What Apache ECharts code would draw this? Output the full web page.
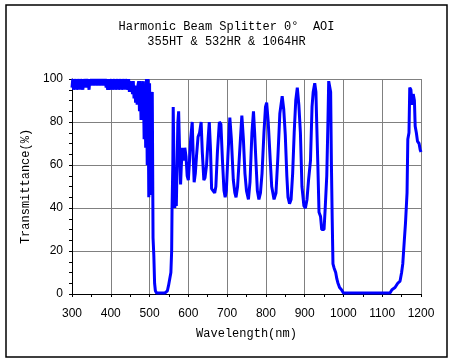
<!DOCTYPE html>
<html>
<head>
<meta charset="utf-8">
<script src="https://cdn.jsdelivr.net/npm/echarts@6/dist/echarts.min.js"></script>
<style>
html,body{margin:0;padding:0;background:#fff;}
#chart{width:453px;height:362px;}
</style>
</head>
<body>
<div id="chart"></div>
<script>
var titleLines = ['Harmonic Beam Splitter 0°  AOI', '355HT & 532HR & 1064HR'];
var xAxisName = 'Wavelength(nm)';
var yAxisName = 'Transmittance(%)';
var xTicks = [300, 400, 500, 600, 700, 800, 900, 1000, 1100, 1200];
var yTicks = [0, 20, 40, 60, 80, 100];

var wavelength = [
300,302,304,306,308,310,312,314,316,318,320,322,324,326,328,330,332,334,336,338,
340,342,344,346,348,350,352,354,356,358,360,362,364,366,368,370,372,374,376,378,
380,382,384,386,388,390,392,394,396,398,400,402,404,406,408,410,412,414,416,418,
420,422,424,426,428,430,432,434,436,438,440,442,444,446,448,450,452,454,456,458,
460,462,464,466,468,470,472,474,476,
478,480,482,484,486,488,490,492,494,496,498,500,502,504,506,507,509,511,513,515,
518,540,546,549,552,555,557,558,560,561,563,565,567,569,571,573,575,577,580,582,
585,588,591,594,597,600,603,606,610,613,615,618,621,625,629,633,636,640,643,647,
651,654,657,660,664,668,671,675,680,684,688,692,695,698,702,707,711,716,720,723,
727,731,738,742,746,750,755,759,764,768,771,774,778,782,786,790,795,799,802,806,
811,815,821,826,831,836,842,846,850,854,857,861,865,869,873,877,881,885,889,893,
898,902,906,910,915,919,922,926,929,931,934,937,941,944,950,953,957,960,962,965,
967,969,971,973,976,980,983,986,990,995,1000,1120,1125,1133,1140,1146,1150,1153,1157,1160,
1162,1164,1166,1169,1171,1174,1177,1180,1183,1185,1188,1191,1195,1198,1200
];
var transmittance = [
96,100,95,99,96,100,95,99,97,100,95,100,96,99,95,100,96,99,97,100,
96,99,95,100,97,100,98,100,97,100,98,100,97,100,98,100,97,100,98,100,
97,100,98,100,96,99,95,100,95,99,96,100,95,99,96,100,95,99,96,100,
95,99,96,100,95,99,96,100,95,100,96,99,95,100,94,99,94,98,93,99,
91,97,89,96,88,97,99,85,99,
81,98,86,99,72,95,68,100,60,100,45,98,46,94,80,94,26,18,5,1.5,
0.5,0.5,1.5,4,7,10,20,40,60,87,60,40,45,41,60,80,85,70,51,60,
68,62,68,64,55,53,62,72,80,62,52,56,64,73,75,80,66,53,54,60,
72,80,68,49,48,47,50,66,80,79,62,48,45,48,64,82,72,53,47,45,
50,62,83,72,56,48,44,52,75,85,75,63,48,44,47,56,75,87,89,80,
63,50,44,47,64,84,92,86,74,55,45,42,44,56,75,90,96,88,75,50,
41,40,44,53,62,87,94,98,94,80,60,38,36,30,30,40,55,80,99,99,
94,60,35,14,12,10,7,5,3,2,0.5,0.5,2,3,5,6,10,14,25,33,
40,47,72,75,96,95,88,93,90,78,75,71,70,67,66
];

var seriesData = wavelength.map(function (w, i) { return [w, transmittance[i]]; });
var monoFont = '"Liberation Mono", "DejaVu Sans Mono", monospace';
var numFont = '"Liberation Sans", Arial, sans-serif';

var chart = echarts.init(document.getElementById('chart'), null, {renderer: 'canvas'});
chart.setOption({
  animation: false,
  backgroundColor: '#ffffff',
  title: {
    text: titleLines.join('\n'),
    left: 'center',
    top: 14,
    textStyle: {fontFamily: monoFont, fontSize: 12, fontWeight: 'normal', color: '#000', lineHeight: 15}
  },
  graphic: [{
    type: 'rect',
    shape: {x: 6, y: 5, width: 441, height: 352},
    style: {fill: 'none', stroke: '#000', lineWidth: 1.5},
    silent: true
  }],
  grid: {left: 72, top: 79, right: 32, bottom: 68, containLabel: false},
  xAxis: {
    type: 'value',
    min: xTicks[0], max: xTicks[xTicks.length - 1], interval: 100,
    name: xAxisName, nameLocation: 'middle', nameGap: 34,
    nameTextStyle: {fontFamily: monoFont, fontSize: 12, color: '#000'},
    axisLine: {show: true, onZero: false, lineStyle: {color: '#000', width: 1}},
    axisTick: {show: true, length: 3, lineStyle: {color: '#000'}},
    minorTick: {show: true, splitNumber: 2, length: 3, lineStyle: {color: '#000'}},
    axisLabel: {fontFamily: numFont, fontSize: 12, color: '#000', margin: 14,
      formatter: function (v) { return String(v); }},
    splitLine: {show: true, lineStyle: {color: '#808080', width: 1}}
  },
  yAxis: {
    type: 'value',
    min: yTicks[0], max: yTicks[yTicks.length - 1], interval: 20,
    name: yAxisName, nameLocation: 'middle', nameGap: 38, nameRotate: 90,
    nameTextStyle: {fontFamily: monoFont, fontSize: 12, color: '#000'},
    axisLine: {show: true, lineStyle: {color: '#000', width: 1}},
    axisTick: {show: true, length: 3, lineStyle: {color: '#000'}},
    minorTick: {show: true, splitNumber: 4, length: 3, lineStyle: {color: '#000'}},
    axisLabel: {fontFamily: numFont, fontSize: 12, color: '#000', margin: 9,
      formatter: function (v) { return String(v); }},
    splitLine: {show: true, lineStyle: {color: '#808080', width: 1}}
  },
  series: [{
    type: 'line',
    data: seriesData,
    showSymbol: false,
    symbol: 'none',
    clip: true,
    lineStyle: {color: '#0000ff', width: 3},
    itemStyle: {color: '#0000ff'}
  }]
});
</script>
</body>
</html>
